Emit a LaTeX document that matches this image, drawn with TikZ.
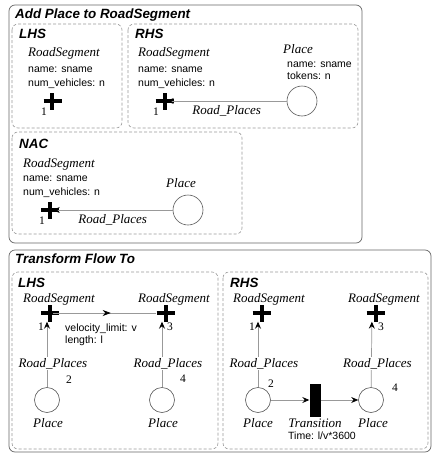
\documentclass[tikz,border=0pt]{standalone}
\usepackage{fontspec}
\setmainfont{Liberation Serif}
\setsansfont{Liberation Sans}
\usepackage{tikz}
\usetikzlibrary{positioning, arrows.meta, decorations.markings}

% dickes Kreuz fuer RoadSegment
\newcommand{\segcross}{\rule[-2pt]{18pt}{4pt}\hspace{-11pt}\rule[-8.5pt]{4pt}{17pt}\hspace{7pt}}

\begin{document}
\begin{tikzpicture}[
            x=1pt, y=-1pt,
            rule/.style={draw=black!60, line width=0.7pt, rounded corners=6pt},
            side/.style={draw=black!40, line width=0.6pt, dash pattern=on 3pt off 2pt, rounded corners=6pt},
            boxtitle/.style={anchor=west, inner sep=0pt, font=\fontsize{13.4}{15}\selectfont\sffamily\bfseries\itshape},
            cls/.style={anchor=base west, inner sep=0pt, font=\fontsize{13}{15}\selectfont\itshape},
            attr/.style={anchor=base west, inner sep=0pt, align=left, font=\fontsize{10.5}{14}\selectfont\sffamily},
            tight/.style={font=\fontsize{10.5}{12}\selectfont\sffamily},
            num/.style={inner sep=0pt, font=\fontsize{11.5}{12}\selectfont},
            seg/.style={inner sep=0pt},
            place/.style={circle, draw=black!65, line width=0.6pt, fill=white, minimum size=30pt, inner sep=0pt},
            splace/.style={place, minimum size=25pt},
            trans/.style={fill=black, minimum width=11pt, minimum height=33pt, inner sep=0pt},
            link/.style={draw=black!40, line width=0.7pt, -{Stealth[length=7pt, width=6pt, inset=2.5pt, color=black]}},
            flow/.style={draw=black!40, line width=0.7pt, postaction={decorate},
                decoration={markings, mark=at position 0.56 with {\arrow{Stealth[length=8pt, width=6pt, inset=2.5pt, color=black]}}}},
            rlabel/.style={inner sep=1pt, font=\fontsize{13}{15}\selectfont\itshape}
        ]

        \useasboundingbox (0,0) rectangle (433,453);

        % Regel 1
        \draw[rule] (9,5) rectangle (362,243);
        \node[boxtitle] (t1) at (15,15) {Add Place to RoadSegment};

        % LHS
        \draw[side] (12,24) rectangle (122,128);
        \node[boxtitle] (lhs1) at (19,34) {LHS};
        \node[cls] (c1) at (28,56) {RoadSegment};
        \node[attr] (a1) at (28,86) {name: sname\\num\_vehicles: n};
        \node[seg] (s1) at (49,101) {\segcross};
        \node[num] (n1) at ([shift={(-5,11)}]s1) {1};

        % RHS
        \draw[side] (128,24) rectangle (358,128);
        \node[boxtitle] (rhs1) at (135,34) {RHS};
        \node[cls] (c2) at (138,56) {RoadSegment};
        \node[attr] (a2) at (138,86) {name: sname\\num\_vehicles: n};
        \node[seg] (s2) at (161,101) {\segcross};
        \node[num] (n2) at ([shift={(-5,11)}]s2) {1};
        \node[place] (p1) at (302,101) {};
        \node[cls] (c3) at (283,53) {Place};
        \node[attr, tight] (a3) at (287,79) {name: sname\\tokens: n};
        \draw[link] (p1) -- node[rlabel, below=3pt] (r1) {Road\_Places} (s2);

        % NAC
        \draw[side] (12,132) rectangle (242,234);
        \node[boxtitle] (nac) at (19,144) {NAC};
        \node[cls] (c4) at (23,167) {RoadSegment};
        \node[attr] (a4) at (23,195.5) {name: sname\\num\_vehicles: n};
        \node[seg] (s3) at (47,210) {\segcross};
        \node[num] (n3) at ([shift={(-5,11)}]s3) {1};
        \node[place] (p2) at (188,210) {};
        \node[cls] (c5) at (166,187) {Place};
        \draw[link] (p2) -- node[rlabel, below=3pt] (r2) {Road\_Places} (s3);

        % Regel 2
        \draw[rule] (9,250) rectangle (431,452);
        \node[boxtitle] (t2) at (15,259) {Transform Flow To};

        % LHS
        \draw[side] (12,272) rectangle (218,449);
        \node[boxtitle] (lhs2) at (18,283) {LHS};
        \node[seg] (s4) at (47,313) {\segcross};
        \node[seg] (s5) at (162,313) {\segcross};
        \node[cls] (c6) at (23,302) {RoadSegment};
        \node[cls] (c7) at (138,302) {RoadSegment};
        \node[num] (n4) at ([shift={(-6,14)}]s4) {1};
        \node[num] (n5) at ([shift={(8,14)}]s5) {3};
        \node[splace] (p3) at (47,400) {};
        \node[splace] (p4) at (162,400) {};
        \node[num] (n6) at ([shift={(22,-20)}]p3) {2};
        \node[num] (n7) at ([shift={(21,-21)}]p4) {4};
        \node[cls, anchor=base] (c8) at (48,427) {Place};
        \node[cls, anchor=base] (c9) at (163,427) {Place};
        \node[attr, tight] (a5) at (65,343.5) {velocity\_limit: v\\length: l};
        \draw[flow] (s4) -- (s5);
        \draw[link] (p3) -- node[rlabel, fill=white, pos=0.36, xshift=6pt] (r3) {Road\_Places} (s4);
        \draw[link] (p4) -- node[rlabel, fill=white, pos=0.36, xshift=6pt] (r4) {Road\_Places} (s5);

        % RHS
        \draw[side] (223,272) rectangle (428,449);
        \node[boxtitle] (rhs2) at (230,283) {RHS};
        \node[seg] (s6) at (258,313) {\segcross};
        \node[seg] (s7) at (372,313) {\segcross};
        \node[cls] (c10) at (233,302) {RoadSegment};
        \node[cls] (c11) at (348,302) {RoadSegment};
        \node[num] (n8) at ([shift={(-6,14)}]s6) {1};
        \node[num] (n9) at ([shift={(9,14)}]s7) {3};
        \node[splace] (p5) at (258,400) {};
        \node[splace] (p6) at (371,400) {};
        \node[trans] (tr) at (315,400) {};
        \node[num] (n10) at ([shift={(13,-16)}]p5) {2};
        \node[num] (n11) at ([shift={(24,-12)}]p6) {4};
        \node[cls, anchor=base] (c12) at (258,427) {Place};
        \node[cls, anchor=base] (c13) at (315,427) {Transition};
        \node[cls, anchor=base] (c14) at (373,427) {Place};
        \node[attr, anchor=base] (a6) at (322,439) {Time: l/v*3600};
        \draw[link] (p5) -- node[rlabel, fill=white, pos=0.36, xshift=6pt] (r5) {Road\_Places} (s6);
        \draw[link] (p6) -- node[rlabel, fill=white, pos=0.36, xshift=6pt] (r6) {Road\_Places} (s7);
        \draw[link] (p5) -- (tr);
        \draw[link] (tr) -- (p6);

    \end{tikzpicture}
\end{document}
